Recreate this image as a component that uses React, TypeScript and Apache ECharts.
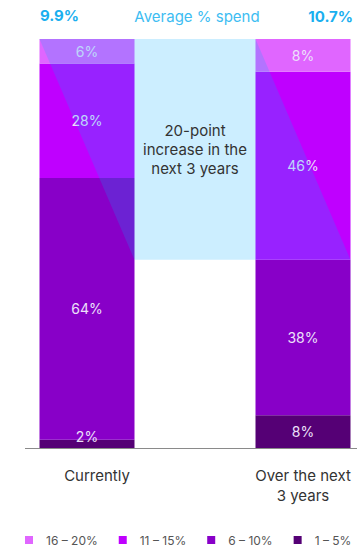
import React, { useEffect, useRef } from "react";
import * as echarts from "echarts";

const categories = ["Currently", "", "Over the next\n3 years"];
const ranges = ["1 – 5%", "6 – 10%", "11 – 15%", "16 – 20%"];
const shareCurrent = [2, 64, 28, 6];
const shareFuture = [8, 38, 46, 8];
const colors = ["#550075", "#8800C8", "#BF00FF", "#E066FF"];
const avgSpend = ["9.9%", "10.7%"];
const avgLabel = "Average % spend";
const calloutText = "20-point\nincrease in the\nnext 3 years";

const FONT = "Inter, 'Noto Sans', sans-serif";
const BAR_W = 95;

export default function App() {
  const ref = useRef<HTMLDivElement>(null);
  useEffect(() => {
    if (!ref.current) return;
    const chart = echarts.init(ref.current, null, { renderer: "svg" });
    const overlayBottom = shareFuture[0] + shareFuture[1];

    const barSeries = ranges.map((name, i) => ({
      type: "bar",
      name,
      stack: "share",
      barWidth: BAR_W,
      z: 2,
      itemStyle: { color: colors[i] },
      label: {
        show: true,
        position: "inside",
        formatter: "{c}%",
        color: "#ECE0FA",
        fontSize: 14,
        fontFamily: FONT,
      },
      data: [
        i === 0 ? { value: shareCurrent[i], label: { offset: [0, -7] } } : shareCurrent[i],
        "-",
        shareFuture[i],
      ],
    }));

    const overlay = {
      type: "custom",
      z: 5,
      silent: true,
      data: [[0, 100]],
      renderItem: (params: any, api: any) => {
        const tl = api.coord([0, 100]);
        const tr = api.coord([2, 100]);
        const br = api.coord([2, overlayBottom]);
        const bl = api.coord([0, overlayBottom]);
        const mid = api.coord([1, 100]);
        const h = BAR_W / 2;
        return {
          type: "group",
          children: [
            {
              type: "polygon",
              shape: {
                points: [
                  [tl[0] - h, tl[1]],
                  [tr[0] - h, tr[1]],
                  [br[0] + h, br[1]],
                  [bl[0] + h, bl[1]],
                ],
              },
              style: { fill: "rgba(0,170,255,0.2)" },
            },
            {
              type: "text",
              x: mid[0],
              y: (tl[1] + bl[1]) / 2,
              style: {
                text: calloutText,
                align: "center",
                verticalAlign: "middle",
                fill: "#333333",
                font: `15px ${FONT}`,
                lineHeight: 19,
              },
            },
          ],
        };
      },
    };

    chart.setOption({
      animation: false,
      grid: { left: 33, right: -3, top: 39, bottom: 99 },
      xAxis: {
        type: "category",
        data: categories.map((c, i) =>
          i === 0 ? { value: c, textStyle: { padding: [0, 0, 0, 20] } } : c
        ),
        axisLine: { show: false },
        axisTick: { show: false },
        axisLabel: {
          interval: 0,
          margin: 17,
          fontSize: 15,
          lineHeight: 20,
          color: "#333333",
          fontFamily: FONT,
        },
      },
      yAxis: { type: "value", min: 0, max: 100, show: false },
      legend: {
        data: [...ranges].reverse(),
        left: 25,
        top: 534,
        padding: 0,
        icon: "rect",
        itemWidth: 8,
        itemHeight: 8,
        itemGap: 21,
        textStyle: {
          fontSize: 12,
          color: "#555555",
          fontFamily: FONT,
          padding: [0, 0, 0, 8],
        },
      },
      graphic: [
        {
          type: "line",
          shape: { x1: 25, y1: 448.5, x2: 357, y2: 448.5 },
          style: { stroke: "#8a8a8a", lineWidth: 1 },
          z: 10,
        },
        {
          type: "text",
          left: 40,
          top: 8,
          style: { text: avgSpend[0], fill: "#1AAFEF", font: `bold 15px ${FONT}` },
        },
        {
          type: "text",
          x: 197,
          y: 16,
          style: {
            text: avgLabel,
            fill: "#3DBDF2",
            font: `15px ${FONT}`,
            align: "center",
            verticalAlign: "middle",
          },
        },
        {
          type: "text",
          x: 353,
          y: 16,
          style: {
            text: avgSpend[1],
            fill: "#1AAFEF",
            font: `bold 15px ${FONT}`,
            align: "right",
            verticalAlign: "middle",
          },
        },
      ],
      series: [...barSeries, overlay],
    });
    return () => chart.dispose();
  }, []);
  return (
    <div
      ref={ref}
      style={{ position: "absolute", left: 0, top: 0, width: 357, height: 547 }}
    />
  );
}
